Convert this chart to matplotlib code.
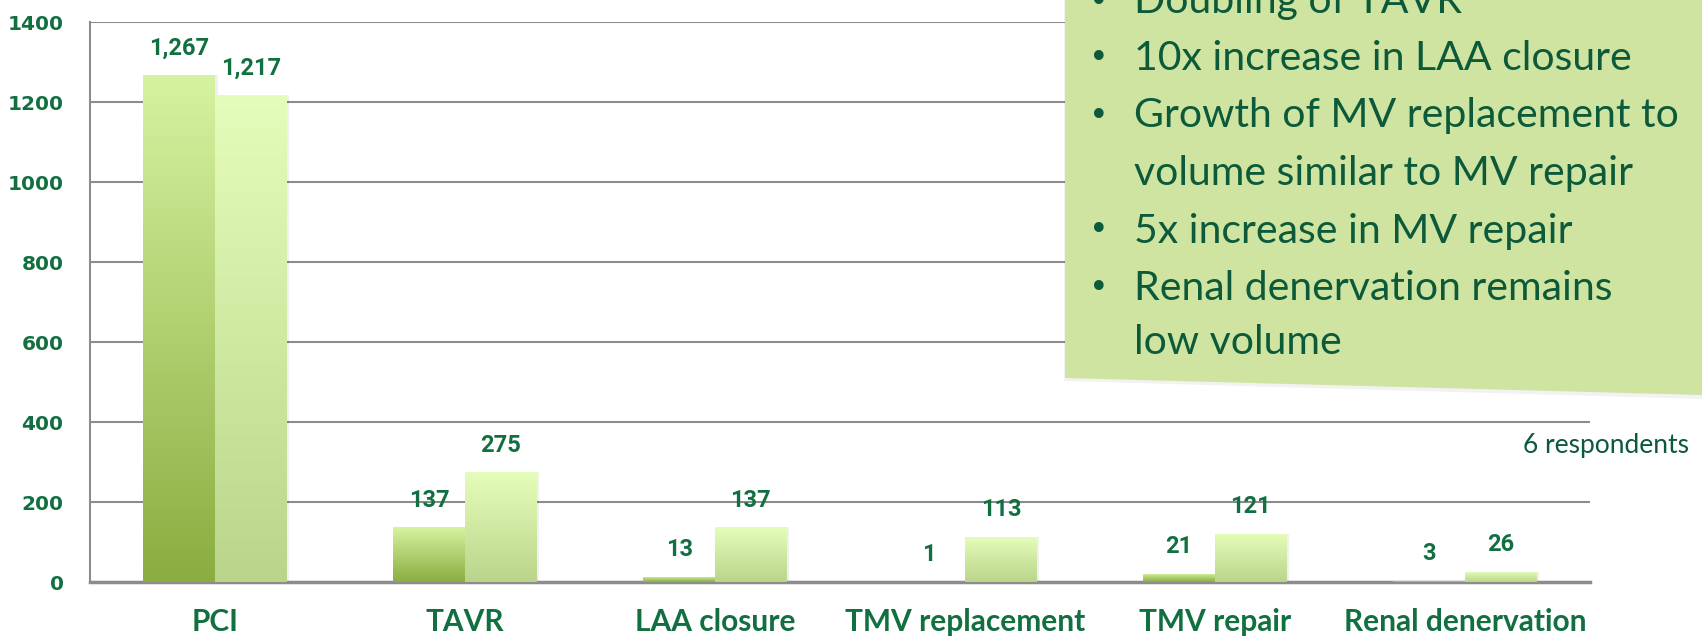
import matplotlib
matplotlib.use("Agg")
import matplotlib.pyplot as plt
import numpy as np
from matplotlib.patches import Polygon
from matplotlib.colors import LinearSegmentedColormap

categories = ["PCI", "TAVR", "LAA closure", "TMV replacement", "TMV repair", "Renal denervation"]
series_current = [1267, 137, 13, 1, 21, 3]
series_future = [1217, 275, 137, 113, 121, 26]
value_labels_current = ["1,267", "137", "13", "1", "21", "3"]
value_labels_future = ["1,217", "275", "137", "113", "121", "26"]
yticks = [0, 200, 400, 600, 800, 1000, 1200, 1400]
callout_lines = [
    ("•", "Doubling of TAVR"),
    ("•", "10x increase in LAA closure"),
    ("•", "Growth of MV replacement to"),
    ("", "volume similar to MV repair"),
    ("•", "5x increase in MV repair"),
    ("•", "Renal denervation remains"),
    ("", "low volume"),
]
note_text = "6 respondents"

W, H = 1702, 639
fig = plt.figure(figsize=(W / 100, H / 100), dpi=100)
ax = fig.add_axes([90 / W, 57 / H, 1500 / W, 560 / H])

green_txt = "#127040"
grid_col = "#8c8c8c"

x = np.arange(len(categories))
bw = 0.287

cmap1 = LinearSegmentedColormap.from_list("c1", ["#8aad40", "#d6f3a1"])
cmap2 = LinearSegmentedColormap.from_list("c2", ["#bad58b", "#e5fdba"])
grad = np.linspace(0, 1, 256).reshape(-1, 1)

ax.set_xlim(-0.5, len(categories) - 0.5)
ax.set_ylim(0, 1400)

for vals, offs, cmap in [(series_current, -bw / 2, cmap1), (series_future, bw / 2, cmap2)]:
    bars = ax.bar(x + offs, vals, width=bw, color="none", edgecolor="none", zorder=3)
    for b in bars:
        x0, y0 = b.get_x(), b.get_y()
        w, h = b.get_width(), b.get_height()
        if h <= 0:
            continue
        ax.add_patch(plt.Rectangle((x0 + 0.01, y0), w, h, facecolor="#000000", alpha=0.06,
                                   edgecolor="none", zorder=2))
        im = ax.imshow(grad, extent=[x0, x0 + w, y0, y0 + h], origin="lower",
                       cmap=cmap, aspect="auto", zorder=3)
        im.set_clip_path(b)

for vals, labels, offs in [(series_current, value_labels_current, -bw / 2),
                           (series_future, value_labels_future, bw / 2)]:
    for xi, v, lab in zip(x, vals, labels):
        ax.annotate(lab, (xi + offs, v), xytext=(0, 27), textcoords="offset pixels",
                    ha="center", va="center", fontsize=17, fontweight="bold",
                    color=green_txt, family="Roboto", zorder=5)

ax.set_yticks(yticks)
ax.set_yticklabels([str(t) for t in yticks], fontsize=14.5, fontweight="bold",
                   color=green_txt, family="DejaVu Sans")
ax.yaxis.grid(True, color=grid_col, linewidth=1.5, zorder=0)
ax.set_axisbelow(True)
ax.tick_params(axis="y", length=0, pad=19)
ax.tick_params(axis="x", length=0, pad=19)
ax.set_xticks(x)
ax.set_xticklabels(categories, fontsize=21.5, fontweight="bold", color=green_txt, family="Lato")
for s in ["top", "right"]:
    ax.spines[s].set_visible(False)
ax.spines["left"].set_color(grid_col)
ax.spines["left"].set_linewidth(1.5)
ax.spines["bottom"].set_color(grid_col)
ax.spines["bottom"].set_linewidth(2.5)

def fp(px, py):
    return (px / W, 1 - py / H)

shadow = Polygon([fp(1064, 0), fp(1702, 0), fp(1702, 399), fp(1064, 381)], closed=True,
                 transform=fig.transFigure, facecolor="#000000", alpha=0.05, edgecolor="none", zorder=9)
fig.patches.append(shadow)
box = Polygon([fp(1065, 0), fp(1702, 0), fp(1702, 395), fp(1065, 378)], closed=True,
              transform=fig.transFigure, facecolor="#d0e4a2", edgecolor="none", zorder=10)
fig.patches.append(box)

line_y = [2, 58, 116, 173, 231, 288, 343]
for (bul, txt), yy in zip(callout_lines, line_y):
    if bul:
        fig.text(1089 / W, 1 - yy / H, bul, fontsize=24, color="#0c5a3a", va="center",
                 ha="left", family="DejaVu Sans", zorder=11)
    fig.text(1134 / W, 1 - yy / H, txt, fontsize=29.5, color="#0c5a3a", va="center", ha="left",
             family="Lato", zorder=11)

fig.text(1523 / W, 1 - 446 / H, note_text, fontsize=19, color="#0c5a3a", va="center", ha="left",
         family="Lato")

fig.savefig("out.png", dpi=100)
